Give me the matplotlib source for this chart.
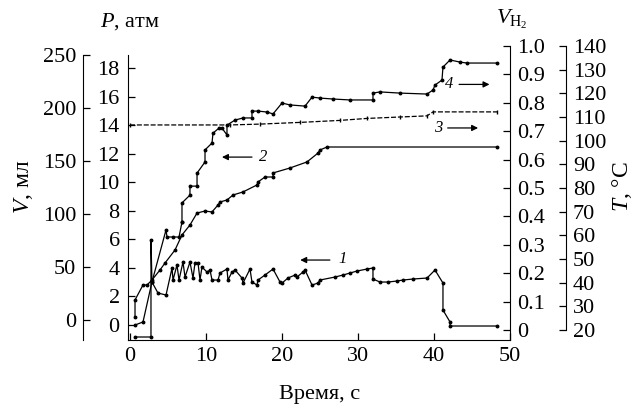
import matplotlib
matplotlib.use("Agg")
import matplotlib.pyplot as plt

plt.rcParams['font.family'] = ['Liberation Serif', 'DejaVu Serif']
plt.rcParams['mathtext.fontset'] = 'custom'
plt.rcParams['mathtext.rm'] = 'Liberation Serif'
plt.rcParams['mathtext.it'] = 'Liberation Serif:italic'

# ---- data ----
t1 = [0.66, 2.76, 2.76, 2.89, 3.68, 4.74, 5.53, 5.66, 6.18, 6.45, 6.97, 7.24, 7.89, 8.29,
      8.55, 8.95, 9.21, 9.47, 10.13, 10.53, 10.79, 11.58, 11.84, 12.76, 12.89, 13.42, 13.82,
      14.74, 14.87, 15.79, 16.05, 16.71, 16.84, 17.76, 18.82, 19.74, 20.0, 20.79, 21.71,
      21.97, 22.76, 23.03, 23.95, 24.74, 25.0, 26.97, 28.03, 28.95, 29.87, 31.18, 31.97,
      31.97, 32.89, 33.95, 35.13, 35.92, 37.24, 39.08, 40.13, 41.18, 41.18, 42.11, 42.11, 48.29]
p1 = [-0.84, -0.84, 5.95, 3.01, 2.24, 2.10, 3.99, 3.15, 4.20, 3.15, 4.41, 3.36, 4.41, 3.29,
      4.34, 4.34, 3.15, 4.06, 3.71, 3.85, 3.15, 3.15, 3.64, 3.92, 3.15, 3.71, 3.85,
      3.29, 2.94, 3.92, 3.01, 2.80, 3.15, 3.50, 3.92, 3.01, 2.94, 3.29, 3.50,
      3.36, 3.71, 3.85, 2.80, 2.94, 3.15, 3.36, 3.50, 3.64, 3.78, 3.92, 3.99,
      3.22, 3.01, 3.01, 3.08, 3.15, 3.22, 3.29, 3.85, 2.94, 1.05, 0.21, -0.07, -0.07]

t2 = [0.66, 0.66, 1.71, 2.24, 2.89, 3.95, 4.61, 5.92, 6.84, 7.89, 8.82, 9.87, 10.79, 11.58,
      11.84, 12.76, 13.55, 14.87, 16.71, 16.84, 17.76, 18.82, 18.82, 21.05, 23.29, 24.74,
      25.0, 25.92, 48.29]
v2 = [2.8, 18.9, 33.0, 33.0, 37.7, 47.2, 53.8, 66.0, 80.2, 89.6, 100.9, 102.8, 101.9, 108.5,
      111.3, 113.2, 117.9, 120.8, 127.4, 130.2, 134.9, 134.9, 138.7, 143.4, 149.1, 157.5,
      160.4, 163.2, 163.2]

t3 = [0.0, 13.16, 17.1, 22.37, 27.63, 31.18, 35.53, 39.08, 39.87, 48.29]
h3 = [0.722, 0.722, 0.725, 0.731, 0.738, 0.745, 0.750, 0.754, 0.768, 0.768]

t4 = [0.66, 1.71, 2.89, 4.74, 4.87, 5.66, 6.45, 6.84, 6.84, 6.84, 7.89, 7.89, 8.82, 8.82,
      9.87, 9.87, 10.79, 10.92, 11.71, 12.11, 12.76, 12.76, 13.82, 14.87, 16.05, 16.05,
      16.84, 18.03, 18.82, 20.0, 21.05, 23.03, 23.95, 25.0, 26.71, 28.95, 31.97, 31.97,
      32.89, 35.53, 39.08, 39.87, 40.13, 41.05, 41.18, 42.11, 43.42, 44.34, 48.29]
T4 = [22.1, 23.4, 40.3, 62.3, 59.3, 59.3, 59.3, 65.6, 65.6, 73.7, 77.0, 80.8, 80.8, 86.3,
      91.0, 96.1, 99.0, 103.2, 105.3, 105.3, 102.4, 106.6, 108.7, 109.6, 109.6, 112.5,
      112.5, 112.1, 111.3, 115.9, 115.1, 114.6, 118.4, 118.0, 117.6, 117.2, 117.2, 120.1,
      120.6, 120.1, 119.7, 121.4, 123.5, 125.6, 131.1, 134.1, 133.2, 132.8, 132.8]

x_ticks = [0, 10, 20, 30, 40, 50]
p_ticks = [0, 2, 4, 6, 8, 10, 12, 14, 16, 18]
v_ticks = [0, 50, 100, 150, 200, 250]
h_ticks = [0, 0.1, 0.2, 0.3, 0.4, 0.5, 0.6, 0.7, 0.8, 0.9, 1.0]
h_labels = ['0', '0.1', '0.2', '0.3', '0.4', '0.5', '0.6', '0.7', '0.8', '0.9', '1.0']
T_ticks = [20, 30, 40, 50, 60, 70, 80, 90, 100, 110, 120, 130, 140]

# ---- layout ----
W, H = 637, 408
fig = plt.figure(figsize=(W / 100, H / 100), dpi=100)
L, R, Tp, B = 128, 510, 46, 340
rect = [L / W, 1 - B / H, (R - L) / W, (B - Tp) / H]

def px(x, y):
    return x / W, 1 - y / H

FS = 16
tick_kw = dict(direction='in', length=5, width=0.9, labelsize=FS, color='black')

ax = fig.add_axes(rect)
ax.set_xlim(-0.263, 50)
ax.set_ylim(-1.05, 19.54)
for s in ['top', 'right']:
    ax.spines[s].set_visible(False)
ax.spines['left'].set_bounds(-1.05, 18.9)
ax.spines['bottom'].set_bounds(-0.263, 50)
ax.set_xticks(x_ticks)
ax.set_yticks(p_ticks)
ax.tick_params(axis='x', pad=5, **tick_kw)
ax.tick_params(axis='y', pad=6, **tick_kw)
ax.patch.set_visible(False)

axV = fig.add_axes(rect, sharex=ax)
axV.set_ylim(-18.9, 258.5)
axV.patch.set_visible(False)
for s in ['top', 'right', 'bottom']:
    axV.spines[s].set_visible(False)
axV.spines['left'].set_position(('outward', 45 * 0.72))
axV.spines['left'].set_bounds(-18.9, 250)
axV.set_yticks(v_ticks)
axV.tick_params(axis='y', pad=5, **tick_kw)
axV.tick_params(axis='x', bottom=False, labelbottom=False)

axH = fig.add_axes(rect, sharex=ax)
axH.set_ylim(-0.0352, 1.0)
axH.patch.set_visible(False)
for s in ['top', 'left', 'bottom']:
    axH.spines[s].set_visible(False)
axH.yaxis.tick_right()
axH.spines['right'].set_bounds(-0.0352, 1.0)
axH.set_yticks(h_ticks)
axH.set_yticklabels(h_labels)
axH.tick_params(axis='y', pad=5, **tick_kw)
axH.tick_params(axis='x', bottom=False, labelbottom=False)

axT = fig.add_axes(rect, sharex=ax)
axT.set_ylim(20 + 120 * (-0.0352), 140)
axT.patch.set_visible(False)
for s in ['top', 'left', 'bottom']:
    axT.spines[s].set_visible(False)
axT.yaxis.tick_right()
axT.spines['right'].set_position(('outward', 56 * 0.72))
axT.spines['right'].set_bounds(20, 140)
axT.set_yticks(T_ticks)
axT.tick_params(axis='y', pad=5, **tick_kw)
axT.tick_params(axis='x', bottom=False, labelbottom=False)

line_kw = dict(color='black', lw=0.9, marker='o', markersize=1.8, clip_on=False)
ax.plot(t1, p1, **line_kw)
axV.plot(t2, v2, **line_kw)
axH.plot(t3, h3, color='black', lw=0.9, linestyle=(0, (4, 1.5)), marker='|', markersize=2.5)
axT.plot(t4, T4, **line_kw)

# curve labels and arrows (main axes coords)
arr = dict(arrowstyle='-|>', color='black', lw=0.9, mutation_scale=9, shrinkA=0, shrinkB=0)
ax.annotate('', xy=(22.4, 4.55), xytext=(26.3, 4.55), arrowprops=arr)
ax.text(28.0, 4.6, '1', fontsize=12, style='italic', ha='center', va='center')
ax.annotate('', xy=(12.1, 11.76), xytext=(16.05, 11.76), arrowprops=arr)
ax.text(17.5, 11.8, '2', fontsize=12, style='italic', ha='center', va='center')
ax.annotate('', xy=(45.8, 13.8), xytext=(41.8, 13.8), arrowprops=arr)
ax.text(40.6, 13.8, '3', fontsize=12, style='italic', ha='center', va='center')
ax.annotate('', xy=(47.3, 16.85), xytext=(43.3, 16.85), arrowprops=arr)
ax.text(42.0, 16.85, '4', fontsize=12, style='italic', ha='center', va='center')

# axis titles
fig.text(*px(130, 22), '$P$, атм', fontsize=FS, ha='center', va='center')
fig.text(*px(24, 187), '$V$, мл', fontsize=FS + 1, ha='center', va='center', rotation=90)
fig.text(*px(512, 19), r'$V_{\mathrm{H}_2}$', fontsize=FS, ha='center', va='center')
fig.text(*px(622, 187), '$T$, °C', fontsize=FS + 1, ha='center', va='center', rotation=90)
fig.text(*px(320, 394), 'Время, с', fontsize=FS, ha='center', va='center')

fig.savefig('out.png', dpi=100)
